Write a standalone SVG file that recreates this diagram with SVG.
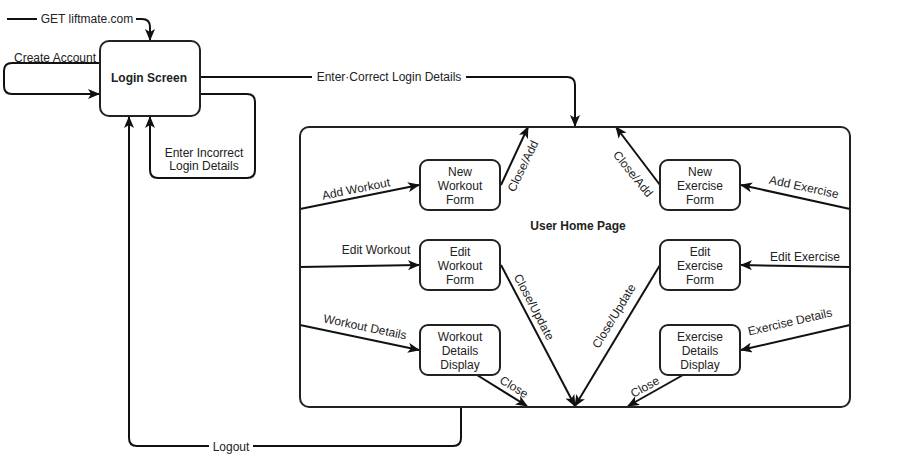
<svg xmlns="http://www.w3.org/2000/svg" width="898" height="473" viewBox="0 0 898 473">
<defs>
<style>
.n{fill:#fff;stroke:#222;stroke-width:2}
.e{fill:none;stroke:#111;stroke-width:2}
.t{font-family:"Liberation Sans",Arial,sans-serif;font-size:12px;fill:#222;text-anchor:middle}
.b{font-weight:bold}
.bg{fill:#fff}
</style>
<marker id="a" markerUnits="userSpaceOnUse" viewBox="0 0 12 10" refX="11" refY="5" markerWidth="12" markerHeight="10" orient="auto">
<path d="M0,0 L12,5 L0,10 L3,5 z" fill="#111"/>
</marker>
</defs>
<rect width="898" height="473" fill="#fff"/>

<g id="connectors">
<path class="e" d="M7,19 H142 Q150,19 150,27 V40" marker-end="url(#a)"/>
<rect class="bg" x="37" y="12" width="99" height="14"/>
<text class="t" x="87" y="23">GET liftmate.com</text>

<path class="e" d="M100,63 H12 Q4,63 4,71 V86 Q4,94 12,94 H99" marker-end="url(#a)"/>
<text class="t" x="55" y="62">Create Account</text>

<path class="e" d="M200,77 H567 Q575,77 575,85 V126" marker-end="url(#a)"/>
<rect class="bg" x="312" y="70" width="154" height="14"/>
<text class="t" x="389" y="81">Enter·Correct Login Details</text>

<path class="e" d="M200,94 H247 Q255,94 255,102 V170 Q255,178 247,178 H158 Q150,178 150,170 V117" marker-end="url(#a)"/>
<text class="t" x="204" y="157">Enter Incorrect</text>
<text class="t" x="204" y="170">Login Details</text>

<path class="e" d="M461,407 V438 Q461,446 453,446 H137 Q129,446 129,438 V117" marker-end="url(#a)"/>
<rect class="bg" x="209" y="439" width="44" height="14"/>
<text class="t" x="231" y="451">Logout</text>

<path class="e" d="M300,209 L419,185" marker-end="url(#a)"/>
<text class="t" transform="translate(356,189) rotate(-11.3)" y="4">Add Workout</text>
<path class="e" d="M300,267 L419,265" marker-end="url(#a)"/>
<text class="t" x="376" y="254">Edit Workout</text>
<path class="e" d="M300,325 L419,350" marker-end="url(#a)"/>
<text class="t" transform="translate(365,327) rotate(11.8)" y="4">Workout Details</text>

<path class="e" d="M501,185 L528,127" marker-end="url(#a)"/>
<text class="t" transform="translate(523,166) rotate(-64)" y="4">Close/Add</text>
<path class="e" d="M501,265 L575,406" marker-end="url(#a)"/>
<text class="t" transform="translate(534,307) rotate(62.3)" y="4">Close/Update</text>
<path class="e" d="M477,375 L527,406" marker-end="url(#a)"/>
<text class="t" transform="translate(514,387) rotate(31)" y="4">Close</text>

<path class="e" d="M850,209 L741,185" marker-end="url(#a)"/>
<text class="t" transform="translate(804,187) rotate(12.1)" y="4">Add Exercise</text>
<path class="e" d="M850,267 L741,265" marker-end="url(#a)"/>
<text class="t" x="805" y="261">Edit Exercise</text>
<path class="e" d="M850,325 L741,350" marker-end="url(#a)"/>
<text class="t" transform="translate(790,322) rotate(-13)" y="4">Exercise Details</text>

<path class="e" d="M660,185 L616,127" marker-end="url(#a)"/>
<text class="t" transform="translate(633,174) rotate(51)" y="4">Close/Add</text>
<path class="e" d="M660,265 L575,406" marker-end="url(#a)"/>
<text class="t" transform="translate(614,316) rotate(-58.9)" y="4">Close/Update</text>
<path class="e" d="M683,375 L628,406" marker-end="url(#a)"/>
<text class="t" transform="translate(645,387) rotate(-29.4)" y="4">Close</text>
</g>

<g id="login-screen">
<rect class="n" x="100" y="41" width="100" height="75" rx="9"/>
<text class="t b" x="149" y="82">Login Screen</text>
</g>

<g id="user-home-page">
<rect class="n" x="300" y="127" width="550" height="280" rx="9" fill="none" style="fill:none"/>
<text class="t b" x="578" y="230">User Home Page</text>
</g>

<g id="new-workout-form">
<rect class="n" x="420" y="160" width="80" height="50" rx="8"/>
<text class="t" x="460" y="176">New</text><text class="t" x="460" y="190">Workout</text><text class="t" x="460" y="204">Form</text>
</g>
<g id="edit-workout-form">
<rect class="n" x="420" y="240" width="80" height="50" rx="8"/>
<text class="t" x="460" y="256">Edit</text><text class="t" x="460" y="270">Workout</text><text class="t" x="460" y="284">Form</text>
</g>
<g id="workout-details-display">
<rect class="n" x="420" y="325" width="80" height="50" rx="8"/>
<text class="t" x="460" y="341">Workout</text><text class="t" x="460" y="355">Details</text><text class="t" x="460" y="369">Display</text>
</g>
<g id="new-exercise-form">
<rect class="n" x="660" y="160" width="80" height="50" rx="8"/>
<text class="t" x="700" y="176">New</text><text class="t" x="700" y="190">Exercise</text><text class="t" x="700" y="204">Form</text>
</g>
<g id="edit-exercise-form">
<rect class="n" x="660" y="240" width="80" height="50" rx="8"/>
<text class="t" x="700" y="256">Edit</text><text class="t" x="700" y="270">Exercise</text><text class="t" x="700" y="284">Form</text>
</g>
<g id="exercise-details-display">
<rect class="n" x="660" y="325" width="80" height="50" rx="8"/>
<text class="t" x="700" y="341">Exercise</text><text class="t" x="700" y="355">Details</text><text class="t" x="700" y="369">Display</text>
</g>
</svg>
